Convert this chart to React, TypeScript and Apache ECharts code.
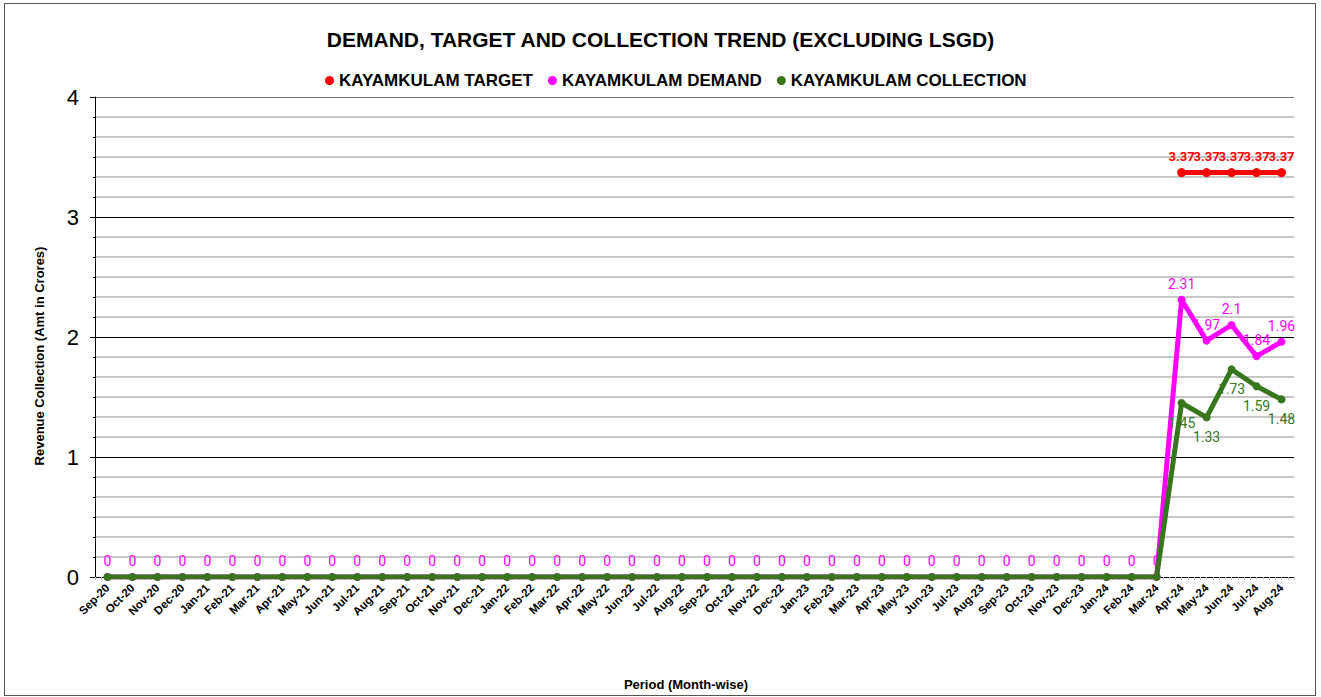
import React, { useEffect, useRef } from "react";
import * as echarts from "echarts";

const categories = [
  "Sep-20", "Oct-20", "Nov-20", "Dec-20",
  "Jan-21", "Feb-21", "Mar-21", "Apr-21", "May-21", "Jun-21", "Jul-21", "Aug-21", "Sep-21", "Oct-21", "Nov-21", "Dec-21",
  "Jan-22", "Feb-22", "Mar-22", "Apr-22", "May-22", "Jun-22", "Jul-22", "Aug-22", "Sep-22", "Oct-22", "Nov-22", "Dec-22",
  "Jan-23", "Feb-23", "Mar-23", "Apr-23", "May-23", "Jun-23", "Jul-23", "Aug-23", "Sep-23", "Oct-23", "Nov-23", "Dec-23",
  "Jan-24", "Feb-24", "Mar-24", "Apr-24", "May-24", "Jun-24", "Jul-24", "Aug-24",
];

const targetValues = [
  null, null, null, null,
  null, null, null, null, null, null, null, null, null, null, null, null,
  null, null, null, null, null, null, null, null, null, null, null, null,
  null, null, null, null, null, null, null, null, null, null, null, null,
  null, null, null, 3.37, 3.37, 3.37, 3.37, 3.37,
];

const demandValues = [
  0, 0, 0, 0,
  0, 0, 0, 0, 0, 0, 0, 0, 0, 0, 0, 0,
  0, 0, 0, 0, 0, 0, 0, 0, 0, 0, 0, 0,
  0, 0, 0, 0, 0, 0, 0, 0, 0, 0, 0, 0,
  0, 0, 0, 2.31, 1.97, 2.1, 1.84, 1.96,
];

const collectionValues = [
  0, 0, 0, 0,
  0, 0, 0, 0, 0, 0, 0, 0, 0, 0, 0, 0,
  0, 0, 0, 0, 0, 0, 0, 0, 0, 0, 0, 0,
  0, 0, 0, 0, 0, 0, 0, 0, 0, 0, 0, 0,
  0, 0, 0, 1.45, 1.33, 1.73, 1.59, 1.48,
];

const yTicks = [0, 1, 2, 3, 4];

const FONT = "'Liberation Sans', Arial, sans-serif";
const LABEL_FONT = "Roboto, 'Liberation Sans', sans-serif";

export default function App() {
  const ref = useRef<HTMLDivElement>(null);

  useEffect(() => {
    document.body.style.margin = "0";
    if (!ref.current) return;
    const chart = echarts.init(ref.current, null, { renderer: "svg" });
    const option: any = {
      animation: false,
      backgroundColor: "#ffffff",
      title: {
        text: "DEMAND, TARGET AND COLLECTION TREND (EXCLUDING LSGD)",
        left: "center",
        top: 24,
        textStyle: { fontFamily: FONT, fontWeight: "bold", fontSize: 21, color: "#000" },
      },
      legend: {
        top: 67,
        left: 320,
        icon: "circle",
        itemWidth: 9,
        itemHeight: 9,
        itemGap: 15,
        textStyle: { fontFamily: FONT, fontWeight: "bold", fontSize: 17, color: "#000" },
        data: ["KAYAMKULAM TARGET", "KAYAMKULAM DEMAND", "KAYAMKULAM COLLECTION"],
      },
      grid: { left: 95, right: 27, top: 97, bottom: 120, containLabel: false },
      xAxis: [
        {
          type: "category",
          data: categories,
          boundaryGap: true,
          axisLine: { show: true, lineStyle: { color: "#000", width: 1 } },
          axisTick: { show: false },
          axisLabel: {
            interval: 0,
            rotate: 45,
            margin: 9,
            fontFamily: FONT,
            fontWeight: "bold",
            fontSize: 11.5,
            color: "#000",
          },
          splitLine: { show: false },
        },
        {
          type: "value",
          position: "bottom",
          min: 0,
          max: categories.length,
          interval: 1,
          axisLine: { show: false },
          axisLabel: { show: false },
          splitLine: { show: false },
          axisTick: { show: true, length: 3, lineStyle: { color: "#c8c8c8", width: 1 } },
          minorTick: { show: true, splitNumber: 4, length: 3, lineStyle: { color: "#c8c8c8", width: 1 } },
        },
      ],
      yAxis: {
        type: "value",
        min: yTicks[0],
        max: yTicks[yTicks.length - 1],
        interval: 1,
        axisLine: { show: true, lineStyle: { color: "#000", width: 1 } },
        axisTick: { show: true, length: 5, lineStyle: { color: "#000" } },
        minorTick: { show: true, splitNumber: 6, length: 2, lineStyle: { color: "#000" } },
        axisLabel: { fontFamily: FONT, fontSize: 22, color: "#000", margin: 16 },
        splitLine: { show: true, lineStyle: { color: ["#000", "#000", "#000", "#000", "#777"], width: 1 } },
        minorSplitLine: { show: true, lineStyle: { color: "#b4b4b4", width: 1.5 } },
      },
      graphic: [
        {
          type: "text",
          x: 39,
          y: 356,
          rotation: Math.PI / 2,
          style: {
            text: "Revenue Collection (Amt in Crores)",
            fontFamily: FONT,
            fontWeight: "bold",
            fontSize: 13,
            fill: "#000",
            textAlign: "center",
            textVerticalAlign: "middle",
          },
        },
        {
          type: "text",
          x: 686,
          y: 684,
          style: {
            text: "Period (Month-wise)",
            fontFamily: FONT,
            fontWeight: "bold",
            fontSize: 13,
            fill: "#000",
            textAlign: "center",
            textVerticalAlign: "middle",
          },
        },
      ],
      series: [
        {
          name: "KAYAMKULAM TARGET",
          type: "line",
          data: targetValues,
          xAxisIndex: 0,
          symbol: "circle",
          symbolSize: 9,
          itemStyle: { color: "#ff0000" },
          lineStyle: { color: "#ff0000", width: 5 },
          label: {
            show: true,
            position: "top",
            distance: 5,
            color: "#ff0000",
            fontFamily: LABEL_FONT,
            fontWeight: "bold",
            fontSize: 13,
          },
          z: 4,
        },
        {
          name: "KAYAMKULAM DEMAND",
          type: "line",
          data: demandValues,
          xAxisIndex: 0,
          symbol: "circle",
          symbolSize: 8,
          itemStyle: { color: "#ff00ff" },
          lineStyle: { color: "#ff00ff", width: 5 },
          label: {
            show: true,
            position: "top",
            distance: 5,
            color: "#ff00ff",
            fontFamily: LABEL_FONT,
            fontSize: 14,
          },
          z: 2,
        },
        {
          name: "KAYAMKULAM COLLECTION",
          type: "line",
          data: collectionValues,
          xAxisIndex: 0,
          symbol: "circle",
          symbolSize: 8,
          itemStyle: { color: "#38761d" },
          lineStyle: { color: "#38761d", width: 5 },
          label: {
            show: true,
            position: "bottom",
            distance: 9,
            color: "#38761d",
            fontFamily: LABEL_FONT,
            fontSize: 14,
            formatter: (p: any) => (p.value === 0 ? "" : String(p.value)),
          },
          z: 3,
        },
      ],
    };
    chart.setOption(option);
    return () => chart.dispose();
  }, []);

  return (
    <div style={{ position: "relative", width: 1321, height: 697, background: "#fff" }}>
      <div ref={ref} style={{ position: "absolute", left: 0, top: 0, width: 1321, height: 697 }} />
      <div
        style={{
          position: "absolute",
          left: 4,
          top: 3,
          width: 1312,
          height: 693,
          border: "1px solid #555",
          boxSizing: "border-box",
          pointerEvents: "none",
        }}
      />
    </div>
  );
}
